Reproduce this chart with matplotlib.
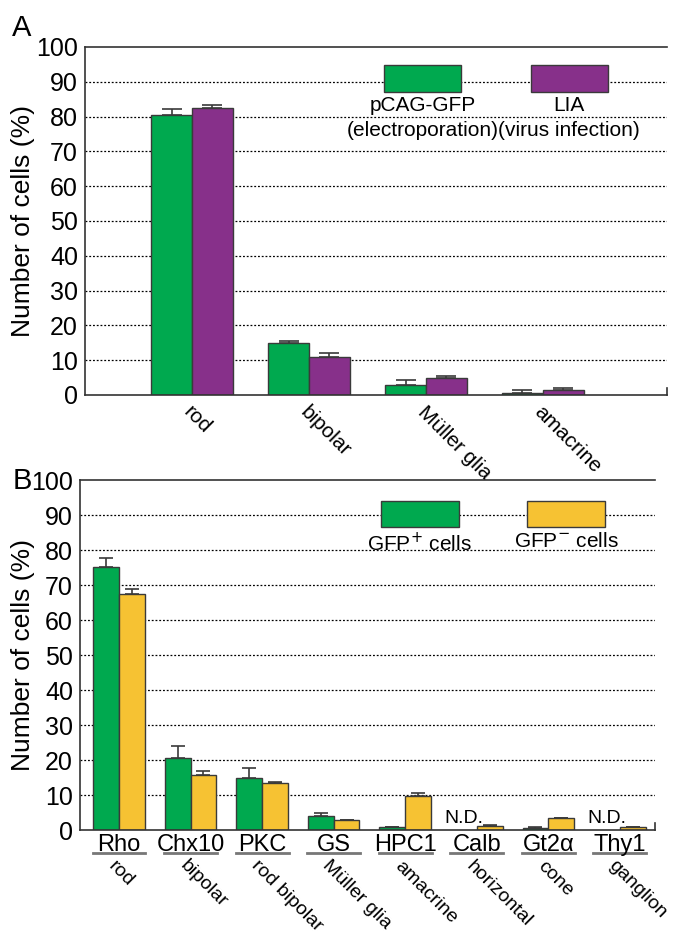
import numpy as np
import matplotlib
matplotlib.use('Agg')
import matplotlib.pyplot as plt
from matplotlib import font_manager
from matplotlib.patches import Rectangle
import matplotlib.transforms as mtransforms

names = {f.name for f in font_manager.fontManager.ttflist}
FAMILY = ['Liberation Sans Narrow', 'Liberation Sans', 'DejaVu Sans']
FAMILY = [f for f in FAMILY if f in names] + ['DejaVu Sans']
plt.rcParams['font.family'] = FAMILY

# panel A data
a_cats = ['rod', 'bipolar', 'Müller glia', 'amacrine']
a_gfp = [80.5, 15.0, 3.0, 0.7]
a_gfp_err = [1.7, 0.6, 1.2, 0.6]
a_lia = [82.5, 11.0, 5.0, 1.5]
a_lia_err = [0.7, 1.2, 0.6, 0.5]

# panel B data
b_markers = ['Rho', 'Chx10', 'PKC', 'GS', 'HPC1', 'Calb', 'Gt2α', 'Thy1']
b_types = ['rod', 'bipolar', 'rod bipolar', 'Müller glia', 'amacrine',
           'horizontal', 'cone', 'ganglion']
b_pos = [75.3, 20.5, 15.0, 4.0, 0.8, np.nan, 0.5, np.nan]
b_pos_err = [2.3, 3.5, 2.8, 1.0, 0.2, 0, 0.4, 0]
b_neg = [67.5, 15.8, 13.5, 2.8, 9.8, 1.2, 3.3, 0.9]
b_neg_err = [1.3, 1.2, 0.3, 0.2, 0.9, 0.1, 0.1, 0.1]

GREEN = '#00a94f'
PURPLE = '#87308a'
YELLOW = '#f6c233'
EDGE = '#3a3a3a'


def style_axes(ax, xlim, label_x):
    ax.set_xlim(*xlim)
    ax.set_ylim(0, 100)
    ax.set_yticks(range(0, 101, 10))
    ax.tick_params(axis='y', length=0, pad=5, labelsize=18)
    ax.tick_params(axis='x', length=0)
    for y in range(10, 100, 10):
        ax.axhline(y, color='black', linestyle=(0, (1.5, 1.5)), linewidth=0.9, zorder=0)
    ax.spines['right'].set_visible(False)
    for s in ['left', 'bottom', 'top']:
        ax.spines[s].set_linewidth(1.2)
        ax.spines[s].set_color('#333333')
    ax.plot([1, 1], [0, 0.02], transform=ax.transAxes, color='#333333',
            linewidth=1.2, clip_on=False)
    ax.set_ylabel('Number of cells (%)', fontsize=19, va='center')
    ax.yaxis.set_label_coords(label_x, 0.5)


def bars(ax, x, vals, errs, w, color, capsize):
    vals = np.array(vals, dtype=float)
    mask = ~np.isnan(vals)
    xs = np.array(x)[mask]
    v = vals[mask]
    e = np.array(errs)[mask]
    ax.bar(xs, v, w, color=color, edgecolor=EDGE, linewidth=1.0, zorder=2)
    ax.errorbar(xs, v, yerr=[np.zeros_like(e), e], fmt='none', ecolor=EDGE,
                elinewidth=1.2, capsize=capsize, capthick=1.2, zorder=3)


def legend_box(ax, x0, y0, w, h, color, lines, gap):
    ax.add_patch(Rectangle((x0, y0), w, h, transform=ax.transAxes,
                           facecolor=color, edgecolor=EDGE, linewidth=1.0,
                           zorder=4))
    for i, t in enumerate(lines):
        ax.text(x0 + w / 2, y0 - gap - i * 0.072, t, transform=ax.transAxes,
                ha='center', va='top', fontsize=15, zorder=5)


fig = plt.figure(figsize=(6.81, 9.38), dpi=100)

# ---- panel A
axA = fig.add_axes([0.1248, 0.5789, 0.8546, 0.371])
xa = np.arange(len(a_cats))
wa = 0.35
bars(axA, xa - wa / 2, a_gfp, a_gfp_err, wa, GREEN, 7)
bars(axA, xa + wa / 2, a_lia, a_lia_err, wa, PURPLE, 7)
style_axes(axA, (-0.915, 4.06), -0.107)
axA.set_xticks([])
for x, lab in zip(xa, a_cats):
    axA.annotate(lab, xy=(x, 0), xycoords=('data', 'axes fraction'),
                 xytext=(-4, -10), textcoords='offset points',
                 rotation=-45, rotation_mode='anchor', ha='left', va='center',
                 fontsize=15)
legend_box(axA, 0.514, 0.871, 0.132, 0.078, GREEN, ['pCAG-GFP', '(electroporation)'], 0.012)
legend_box(axA, 0.766, 0.871, 0.132, 0.078, PURPLE, ['LIA', '(virus infection)'], 0.012)

# ---- panel B
axB = fig.add_axes([0.1175, 0.1151, 0.8443, 0.3731])
xb = np.arange(len(b_markers))
wb = 0.36
bars(axB, xb - wb / 2, b_pos, b_pos_err, wb, GREEN, 5)
bars(axB, xb + wb / 2, b_neg, b_neg_err, wb, YELLOW, 5)
style_axes(axB, (-0.545, 7.49), -0.099)
axB.set_xticks([])
trans = mtransforms.blended_transform_factory(axB.transData, axB.transAxes)
for x, m, t, v in zip(xb, b_markers, b_types, b_pos):
    axB.text(x, -0.01, m, transform=trans, ha='center', va='top', fontsize=17)
    axB.plot([x - 0.37, x + 0.37], [-0.066, -0.066], transform=trans,
             color='#777777', linewidth=2, clip_on=False)
    axB.annotate(t, xy=(x, 0), xycoords=('data', 'axes fraction'),
                 xytext=(-6, -24), textcoords='offset points',
                 rotation=-45, rotation_mode='anchor', ha='left', va='center',
                 fontsize=14)
    if np.isnan(v):
        axB.text(x - wb / 2, 1.0, 'N.D.', ha='center', va='bottom', fontsize=14)
legend_box(axB, 0.523, 0.866, 0.136, 0.074, GREEN, ['GFP$^{+}$ cells'], 0.014)
legend_box(axB, 0.777, 0.866, 0.136, 0.074, YELLOW, ['GFP$^{-}$ cells'], 0.014)

fig.text(0.018, 0.985, 'A', fontsize=21, va='top', ha='left')
fig.text(0.018, 0.502, 'B', fontsize=21, va='top', ha='left')

fig.savefig('out.png', dpi=100)
